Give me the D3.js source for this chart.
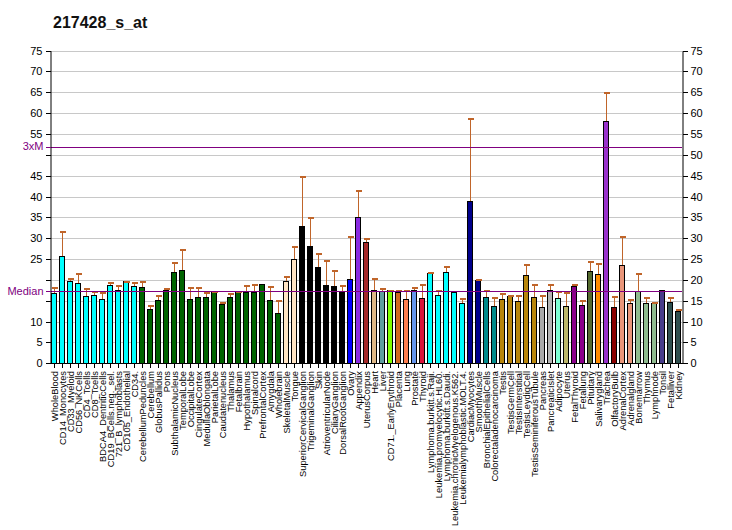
<!DOCTYPE html>
<html>
<head>
<meta charset="utf-8">
<script src="https://cdn.jsdelivr.net/npm/d3@7"></script>
<style>
  body { margin: 0; background: #fff; }
  svg { font-family: Arial, "Liberation Sans", sans-serif; }
  line, rect { shape-rendering: crispEdges; }
</style>
</head>
<body>
<div id="chart"></div>
<script>
// probe set and reference lines
var title = "217428_s_at";
var median = 17.3;
var threeXM = 51.9;

var tissues = ["WholeBlood", "CD14_Monocytes", "CD33_Myeloid", "CD56_NKCells", "CD4_Tcells",
  "CD8_Tcells", "BDCA4_DentriticCells", "CD19_BCells.neg._sel.", "721_B_lymphoblasts",
  "CD105_Endothelial", "CD34.", "CerebellumPeduncles", "Cerebellum", "GlobusPallidus", "Pons",
  "SubthalamicNucleus", "TemporalLobe", "OccipitalLobe", "CingulateCortex", "MedullaOblongata",
  "ParietalLobe", "Caudatenucleus", "Thalamus", "Fetalbrain", "Hypothalamus", "Spinalcord",
  "PrefrontalCortex", "Amygdala", "Wholebrain", "SkeletalMuscle", "Tongue",
  "SuperiorCervicalGanglion", "TrigeminalGanglion", "Skin", "AtrioventricularNode",
  "CiliaryGanglion", "DorsalRootGanglion", "Ovary", "Appendix", "UterusCorpus", "Heart", "Liver",
  "CD71._EarlyErythroid", "Placenta", "Lung", "Prostate", "Thyroid", "Lymphoma.burkitt.s.Raji.",
  "Leukemia.promyelocytic.HL60.", "Lymphoma.burkitt.s.Daudi.", "Leukemia.chronicMyelogenous.K562.",
  "Leukemialymphoblastic.MOLT.4.", "CardiacMyocytes", "SmoothMuscle", "BronchialEpithelialCells",
  "Colorectaladenocarcinoma", "Testis", "TestisGermCell", "TestisInterstitial", "TestisLeydigCell",
  "TestisSeminiferousTubule", "Pancreas", "PancreaticIslet", "Adipocyte", "Uterus", "FetalThyroid",
  "Fetallung", "Pituitary", "Salivarygland", "Trachea", "OlfactoryBulb", "AdrenalCortex",
  "Adrenalgland", "Bonemarrow", "Thymus", "Lymphnode", "Tonsil", "Fetalliver", "Kidney"];

var values = [16.8, 25.7, 19.7, 19.2, 16.1, 16.5, 15.4, 18.7, 17.7, 19.7, 18.5,
  18.2, 13.0, 15.1, 17.5, 21.8, 22.3, 15.4, 15.8, 15.8, 17.0, 14.2, 15.8, 17.0, 17.0, 17.0,
  18.9, 15.1, 12.0, 19.7, 24.9, 32.9, 28.1, 23.1, 18.7, 18.5, 17.2, 20.1, 35.0, 29.0, 17.7,
  17.3, 17.5, 17.0, 15.4, 17.5, 15.6, 21.6, 16.5, 21.8, 17.0, 14.4, 38.9, 19.9, 15.8, 13.7,
  15.4, 16.1, 14.9, 21.1, 15.8, 13.4, 17.7, 15.6, 13.7, 18.5, 13.9, 22.1, 21.3, 58.0, 13.4,
  23.5, 14.4, 17.3, 14.4, 14.4, 17.5, 14.6, 12.5];

// top of each error whisker
var upper = [18.2, 31.7, 20.4, 21.7, 18.0, 17.4, 17.2, 19.4, 18.7, 19.8, 19.4,
  19.8, 13.9, 16.3, 18.0, 24.2, 27.3, 18.2, 18.2, 17.0, 17.4, 14.6, 16.8, 17.4, 18.7, 18.9,
  18.9, 18.5, 15.1, 20.9, 28.1, 44.9, 35.0, 26.4, 24.7, 22.3, 18.7, 30.5, 41.5, 30.0, 20.4,
  18.0, 17.7, 17.5, 17.5, 18.2, 18.9, 21.8, 17.5, 23.3, 17.0, 15.6, 58.8, 20.1, 17.7, 15.8,
  16.8, 16.3, 16.3, 23.7, 18.9, 16.3, 18.9, 17.3, 17.0, 18.9, 15.1, 24.5, 24.0, 65.0, 16.1,
  30.5, 15.4, 21.6, 15.8, 14.6, 17.5, 15.8, 13.0];

var colors = [
  "#00ffff", "#00ffff", "#00ffff", "#00ffff", "#00ffff", "#00ffff", "#00ffff", "#00ffff", "#00ffff", "#00ffff", "#00ffff",
  "#006400", "#006400", "#006400", "#006400", "#006400", "#006400", "#006400", "#006400", "#006400",
  "#006400", "#006400", "#006400", "#006400", "#006400", "#006400", "#006400", "#006400", "#006400",
  "#ffe4c4", "#ffe4c4",
  "#000000", "#000000", "#000000", "#000000", "#000000", "#000000",
  "#0000ff", "#8a2be2", "#a52a2a", "#deb887", "#5f9ea0", "#7fff00", "#d2691e", "#ff7f50", "#6495ed", "#dc143c",
  "#00ffff", "#00ffff", "#00ffff", "#00ffff", "#00ffff",
  "#00008b", "#00008b", "#008b8b", "#008b8b",
  "#b8860b", "#b8860b", "#b8860b", "#b8860b", "#b8860b",
  "#a9a9a9", "#b4b4b4", "#7fffd4", "#bdb76b", "#8b008b", "#8b008b", "#556b2f", "#ff8c00", "#9932cc",
  "#8b0000", "#e9967a", "#e9967a", "#8fbc8f", "#8fbc8f", "#8fbc8f", "#483d8b", "#2f4f4f", "#2f4f4f"];

var yTicks = d3.range(0, 80, 5);

var W = 732, H = 530;
var plotLeft = 50, plotRight = 682, plotTop = 50.6, plotBottom = 363.3;

var data = tissues.map(function(t, i) {
  return {name: t, value: values[i], upper: upper[i], color: colors[i]};
});

var x = d3.scaleBand().domain(tissues).range([plotLeft, plotRight]).paddingInner(0.25).paddingOuter(0.125);
var y = d3.scaleLinear().domain([0, 75]).range([plotBottom, plotTop]);

var svg = d3.select("#chart").append("svg")
    .attr("width", W)
    .attr("height", H);

svg.append("text")
    .attr("x", 53)
    .attr("y", 27.5)
    .attr("font-size", 16)
    .attr("font-weight", "bold")
    .attr("fill", "#111")
    .text(title);

// gridlines
svg.append("g").selectAll("line")
    .data(yTicks.filter(function(d) { return d > 0; }))
  .enter().append("line")
    .attr("x1", plotLeft).attr("x2", plotRight)
    .attr("y1", function(d) { return Math.round(y(d)) + 0.5; })
    .attr("y2", function(d) { return Math.round(y(d)) + 0.5; })
    .attr("stroke", "#c8c8c8");

// bars
svg.append("g").selectAll("rect")
    .data(data)
  .enter().append("rect")
    .attr("x", function(d) { return Math.round(x(d.name)) + 0.5; })
    .attr("y", function(d) { return Math.round(y(d.value)) + 0.5; })
    .attr("width", x.bandwidth() - 1)
    .attr("height", function(d) { return Math.round(plotBottom) - Math.round(y(d.value)); })
    .attr("fill", function(d) { return d.color; })
    .attr("stroke", "#000");

// error whiskers
var err = svg.append("g").attr("stroke", "#c0652a");
var cx = function(d) { return Math.round(x(d.name) + x.bandwidth() / 2) + 0.5; };
var withErr = data.filter(function(d) { return d.upper > d.value + 0.05; });
err.selectAll(".v")
    .data(withErr)
  .enter().append("line")
    .attr("x1", cx).attr("x2", cx)
    .attr("y1", function(d) { return Math.round(y(d.value)); })
    .attr("y2", function(d) { return Math.round(y(d.upper)) + 0.5; });
err.selectAll(".c")
    .data(withErr)
  .enter().append("line")
    .attr("x1", function(d) { return cx(d) - 3; })
    .attr("x2", function(d) { return cx(d) + 3; })
    .attr("y1", function(d) { return Math.round(y(d.upper)) + 0.5; })
    .attr("y2", function(d) { return Math.round(y(d.upper)) + 0.5; })
    .attr("stroke-width", 2);

// median and 3xM lines
[median, threeXM].forEach(function(v) {
  svg.append("line")
      .attr("x1", plotLeft).attr("x2", plotRight)
      .attr("y1", Math.round(y(v)) + 0.5).attr("y2", Math.round(y(v)) + 0.5)
      .attr("stroke", "#800080");
});

// Left axis, labels close to reference lines are dropped
var leftAxis = svg.append("g")
    .attr("transform", "translate(" + (plotLeft + 0.5) + ",0)")
    .call(d3.axisLeft(y).tickValues(yTicks).tickSize(5).tickSizeOuter(0));
leftAxis.attr("font-family", null);
leftAxis.selectAll("text")
    .attr("font-size", 11).attr("fill", "#000")
    .style("display", function(d) {
      return (Math.abs(y(d) - y(median)) < 12 || Math.abs(y(d) - y(threeXM)) < 12) ? "none" : null;
    });
leftAxis.select(".domain").attr("stroke", "#000");

[["Median", median], ["3xM", threeXM]].forEach(function(m) {
  leftAxis.append("line")
      .attr("x1", -5).attr("x2", 0)
      .attr("y1", Math.round(y(m[1])) + 0.5).attr("y2", Math.round(y(m[1])) + 0.5)
      .attr("stroke", "#800080");
  leftAxis.append("text")
      .attr("x", -7).attr("y", y(m[1]))
      .attr("dy", "0.32em")
      .attr("text-anchor", "end")
      .attr("font-size", 11)
      .attr("fill", "#800080")
      .text(m[0]);
});

// Right axis
var rightAxis = svg.append("g")
    .attr("transform", "translate(" + (plotRight + 0.5) + ",0)")
    .call(d3.axisRight(y).tickValues(yTicks).tickSize(5).tickSizeOuter(0));
rightAxis.attr("font-family", null);
rightAxis.selectAll("text").attr("font-size", 11).attr("fill", "#000");

// x baseline, ticks and rotated tissue names
svg.append("line")
    .attr("x1", plotLeft).attr("x2", plotRight + 0.5)
    .attr("y1", Math.round(plotBottom) + 0.5).attr("y2", Math.round(plotBottom) + 0.5)
    .attr("stroke", "#000");

var xg = svg.append("g").selectAll("g")
    .data(data)
  .enter().append("g")
    .attr("transform", function(d) { return "translate(" + cx(d) + "," + Math.round(plotBottom) + ")"; });
xg.append("line")
    .attr("y1", 0).attr("y2", 5)
    .attr("stroke", "#000");
xg.append("text")
    .attr("transform", "translate(3.5,8) rotate(-90)")
    .attr("text-anchor", "end")
    .attr("font-size", 9.3)
    .attr("fill", "#000")
    .text(function(d) { return d.name; });
</script>
</body>
</html>
